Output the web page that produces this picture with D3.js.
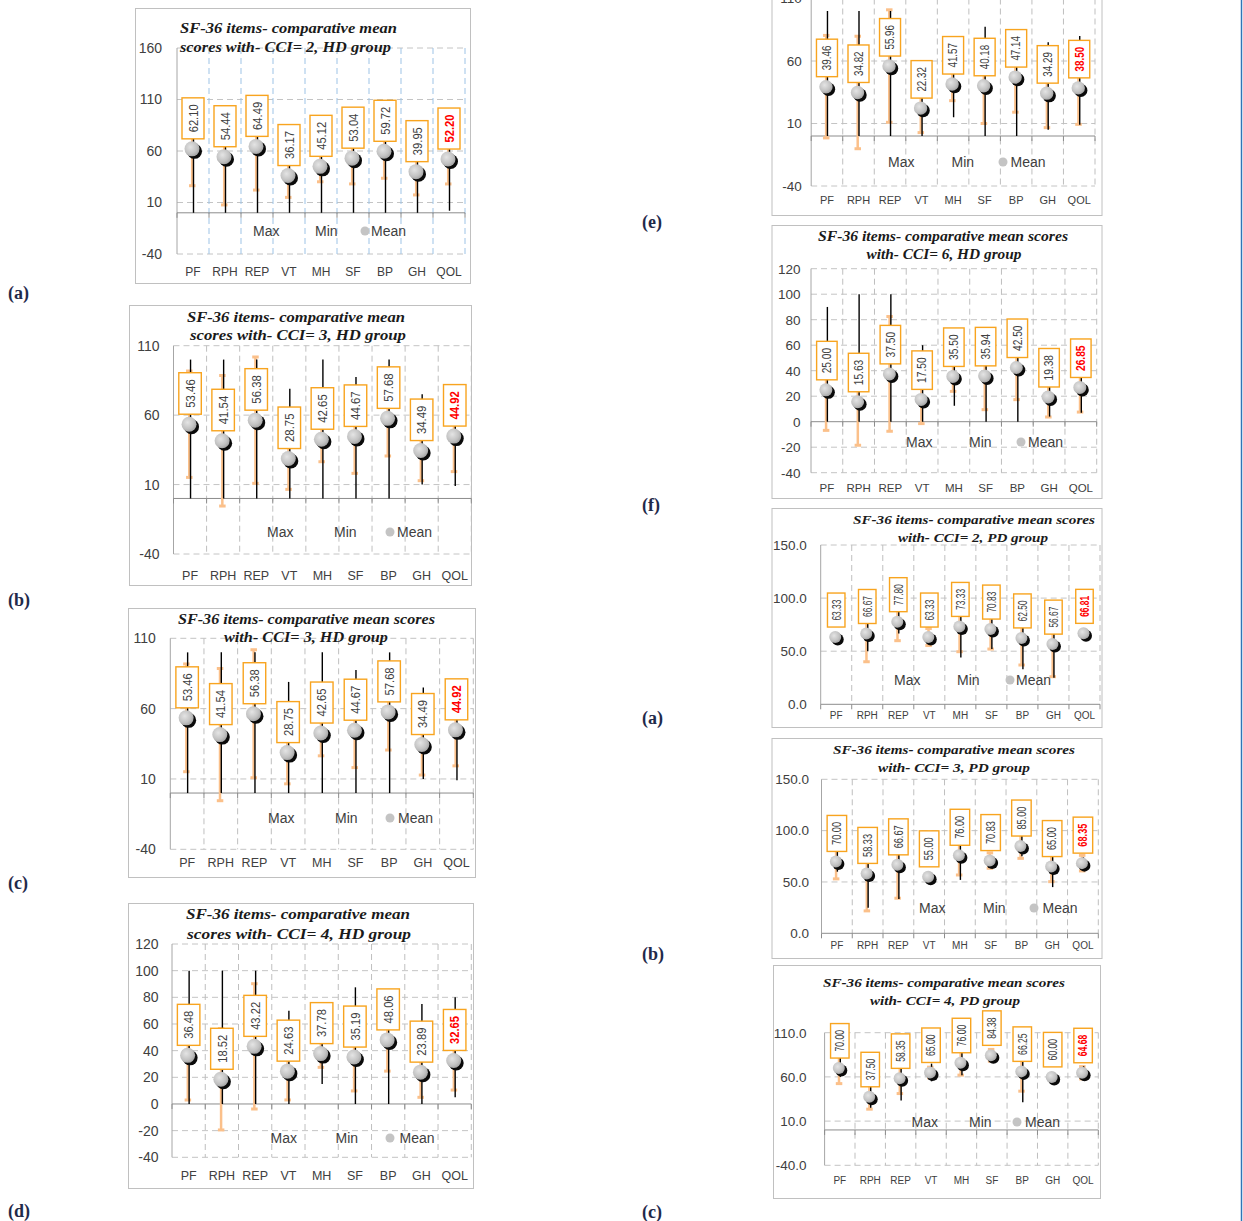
<!DOCTYPE html>
<html>
<head>
<meta charset="utf-8">
<script src="https://cdn.jsdelivr.net/npm/d3@7"></script>
<style>
  body { margin: 0; background: #fff; }
  svg { display: block; }
</style>
</head>
<body>
<script>
// SF-36 item scores, one small panel per CCI level and dialysis group.
const categories = ["PF", "RPH", "REP", "VT", "MH", "SF", "BP", "GH", "QOL"];

const hdCci2Mean = [62.10, 54.44, 64.49, 36.17, 45.12, 53.04, 59.72, 39.95, 52.20];
const hdCci2Sd   = [35.8, 46.8, 42.4, 21.2, 15.0, 25.0, 26.2, 22.6, 24.2];
const hdCci2Min  = [0, 0, 0, 0, 0, 0, 0, 0, 2];
const hdCci2Max  = [100, 100, 100, 66, 80, 90, 100, 72, 85];

const hdCci3Mean = [53.46, 41.54, 56.38, 28.75, 42.65, 44.67, 57.68, 34.49, 44.92];
const hdCci3Sd   = [38.3, 47.0, 45.5, 22.2, 16.2, 26.6, 27.1, 21.7, 25.6];
const hdCci3Min  = [0, 0, 0, 0, 0, 0, 0, 10, 9];
const hdCci3Max  = [100, 100, 100, 79, 100, 87.5, 100, 75, 75];

const hdCci4Mean = [36.48, 18.52, 43.22, 24.63, 37.78, 35.19, 48.06, 23.89, 32.65];
const hdCci4Sd   = [33.5, 38.0, 47.0, 21.6, 10.3, 25.4, 23.4, 18.9, 22.2];
const hdCci4Min  = [0, 0, 0, 0, 15, 0, 0, 0, 5];
const hdCci4Max  = [100, 100, 100, 70, 70, 87.5, 85, 75, 80];

const hdCci5Mean = [39.46, 34.82, 55.96, 22.32, 41.57, 40.18, 47.14, 34.29, 38.50];
const hdCci5Sd   = [41.0, 45.0, 45.0, 19.6, 13.3, 30.2, 28.1, 27.6, 29.2];
const hdCci5Min  = [0, 0, 0, 0, 15, 0, 0, 5, 9];
const hdCci5Max  = [100, 100, 100, 50, 70, 87.5, 80, 75, 80];

const hdCci6Mean = [25.00, 15.63, 37.50, 17.50, 35.50, 35.94, 42.50, 19.38, 26.85];
const hdCci6Sd   = [31.8, 34.1, 45.0, 19.0, 11.7, 26.5, 25.2, 15.7, 19.3];
const hdCci6Min  = [0, 0, 0, 0, 12.5, 0, 0, 4, 7];
const hdCci6Max  = [90, 100, 100, 60, 60, 62.5, 75, 40, 45];

const pdCci2Mean = [63.33, 66.67, 77.80, 63.33, 73.33, 70.83, 62.50, 56.67, 66.81];
const pdCci2Sd   = [0, 26.6, 17.9, 8.0, 23.8, 18.8, 25.5, 30.7, 2.0];
const pdCci2Min  = [63.33, 50, 66.7, 60, 44, 52, 33, 25, 65];
const pdCci2Max  = [63.33, 83.3, 88.9, 66.7, 88, 85, 80, 70, 68];

const pdCci3Mean = [70.00, 58.33, 66.67, 55.00, 76.00, 70.83, 85.00, 65.00, 68.35];
const pdCci3Sd   = [17.0, 36.5, 32.5, 0, 19.2, 7.5, 12.0, 14.7, 7.6];
const pdCci3Min  = [60, 25, 33.3, 55, 52, 66.7, 75, 45, 62];
const pdCci3Max  = [85, 83.3, 91.7, 55, 92, 75, 95, 80, 74];

const pdCci4Mean = [70.00, 37.50, 58.35, 65.00, 76.00, 84.38, 66.25, 60.00, 64.68];
const pdCci4Sd   = [17.6, 14.0, 17.2, 6.0, 14.0, 6.7, 22.4, 0, 7.0];
const pdCci4Min  = [60, 25, 33.3, 55, 62, 77, 31.3, 60, 57];
const pdCci4Max  = [85, 55, 75, 75, 87, 90, 87, 60, 72];

const ticksA = [-40, 10, 60, 110, 160];
const ticksB = [-40, 10, 60, 110];
const ticksC = [-40, -20, 0, 20, 40, 60, 80, 100, 120];
const ticksPd = [0, 50, 100, 150];

const intFmt = d => String(d);
const oneFmt = d => d.toFixed(1);

const panels = [
  { tag: "(a)", tagPos: [8, 299], mean: hdCci2Mean, sd: hdCci2Sd, lo: hdCci2Min, hi: hdCci2Max,
    ticks: ticksA, fmt: intFmt, frame: [135, 8, 335, 275], plot: [177, 48, 465, 254],
    vColor: "#9dc3e6", yPad: 15, xPad: 13, yFont: 14, xFont: 12, r: 7.5, box: [22, 41],
    title: ["SF-36 items- comparative mean", "scores with- CCI= 2, HD group"],
    titleLines: [[288.5, 33, 217], [285.5, 52, 211]], titleFont: 15,
    legend: { y: 231, max: 253, min: 315, dot: 365, mean: 371 } },
  { tag: "(b)", tagPos: [8, 606], mean: hdCci3Mean, sd: hdCci3Sd, lo: hdCci3Min, hi: hdCci3Max,
    ticks: ticksB, fmt: intFmt, frame: [129, 305, 342, 280], plot: [173.5, 345.7, 471.3, 554],
    vColor: "#bfbfbf", yPad: 14, xPad: 17, yFont: 14, xFont: 12.5, r: 7.5, box: [22.5, 41.5],
    title: ["SF-36 items- comparative mean", "scores with- CCI= 3, HD group"],
    titleLines: [[296, 322, 218], [298, 339.5, 216]], titleFont: 15,
    legend: { y: 532, max: 267, min: 334, dot: 390, mean: 397 } },
  { tag: "(c)", tagPos: [8, 889], mean: hdCci3Mean, sd: hdCci3Sd, lo: hdCci3Min, hi: hdCci3Max,
    ticks: ticksB, fmt: intFmt, frame: [128, 608, 347, 269], plot: [170.3, 638.3, 473.3, 849.3],
    vColor: "#bfbfbf", yPad: 14.5, xPad: 9, yFont: 14, xFont: 12.5, r: 7.5, box: [22.5, 41],
    title: ["SF-36 items- comparative mean scores", "with- CCI= 3, HD group"],
    titleLines: [[306.5, 623.5, 257], [306, 642, 164]], titleFont: 15,
    legend: { y: 818, max: 268, min: 335, dot: 390, mean: 398 } },
  { tag: "(d)", tagPos: [8, 1217], mean: hdCci4Mean, sd: hdCci4Sd, lo: hdCci4Min, hi: hdCci4Max,
    ticks: ticksC, fmt: intFmt, frame: [128, 903, 345, 285], plot: [172, 944, 471.3, 1157.3],
    vColor: "#bfbfbf", yPad: 13.5, xPad: 14, yFont: 14, xFont: 12.5, r: 7.5, box: [22.5, 41],
    title: ["SF-36 items- comparative mean", "scores with- CCI= 4, HD group"],
    titleLines: [[298, 919, 224], [299, 938.5, 224]], titleFont: 15,
    legend: { y: 1138, max: 270.5, min: 335.5, dot: 390, mean: 399.5 } },
  { tag: "(e)", tagPos: [642, 228], mean: hdCci5Mean, sd: hdCci5Sd, lo: hdCci5Min, hi: hdCci5Max,
    ticks: ticksB, fmt: intFmt, frame: [771.5, -10, 330, 225], plot: [811.2, -1.5, 1095, 186],
    vColor: "#bfbfbf", yPad: 9.5, xPad: 10.5, yFont: 13.5, xFont: 11, r: 6.7, box: [21, 37.5],
    title: null, legend: { y: 162, max: 888, min: 951.5, dot: 1003, mean: 1010.5 } },
  { tag: "(f)", tagPos: [642, 511], mean: hdCci6Mean, sd: hdCci6Sd, lo: hdCci6Min, hi: hdCci6Max,
    ticks: ticksC, fmt: intFmt, frame: [771.5, 225, 330, 273], plot: [811, 268.7, 1096.7, 472.7],
    vColor: "#bfbfbf", yPad: 10.5, xPad: 11, yFont: 13.5, xFont: 11.5, r: 6.5, box: [20.5, 38.5],
    title: ["SF-36 items- comparative mean scores", "with- CCI= 6, HD group"],
    titleLines: [[943, 240.5, 250], [944, 259, 155]], titleFont: 14,
    legend: { y: 442, max: 906, min: 969, dot: 1021, mean: 1028 } },
  { tag: "(a)", tagPos: [642, 724], mean: pdCci2Mean, sd: pdCci2Sd, lo: pdCci2Min, hi: pdCci2Max,
    ticks: ticksPd, fmt: oneFmt, frame: [771.5, 508, 330, 219], plot: [820.7, 545, 1100, 704.3],
    vColor: "#bfbfbf", yPad: 14, xPad: 8, yFont: 13.5, xFont: 10, r: 6, box: [17.5, 34],
    title: ["SF-36 items- comparative mean scores", "with- CCI= 2, PD group"],
    titleLines: [[974, 523.5, 242], [973, 542, 150]], titleFont: 13.5,
    legend: { y: 680, max: 894, min: 957, dot: 1010, mean: 1016 } },
  { tag: "(b)", tagPos: [642, 960], mean: pdCci3Mean, sd: pdCci3Sd, lo: pdCci3Min, hi: pdCci3Max,
    ticks: ticksPd, fmt: oneFmt, frame: [771.5, 738, 330, 220], plot: [821.5, 779.3, 1098.3, 933.3],
    vColor: "#bfbfbf", yPad: 12.5, xPad: 9, yFont: 13.5, xFont: 10, r: 6, box: [19.5, 36],
    title: ["SF-36 items- comparative mean scores", "with- CCI= 3, PD group"],
    titleLines: [[954, 753.5, 242], [954, 772, 152]], titleFont: 13.5,
    legend: { y: 908, max: 919, min: 983, dot: 1034, mean: 1042.5 } },
  { tag: "(c)", tagPos: [642, 1218], mean: pdCci4Mean, sd: pdCci4Sd, lo: pdCci4Min, hi: pdCci4Max,
    ticks: ticksB, fmt: oneFmt, frame: [773, 965, 327, 233], plot: [824.6, 1032.7, 1098.3, 1165.3],
    vColor: "#bfbfbf", yPad: 18, xPad: 11.5, yFont: 13.5, xFont: 10, r: 6, box: [18.5, 34.5],
    title: ["SF-36 items- comparative mean scores", "with- CCI= 4, PD group"],
    titleLines: [[944, 987, 242], [945, 1005, 150]], titleFont: 13.5,
    legend: { y: 1122, max: 911.5, min: 969, dot: 1017, mean: 1025 } }
];

const svg = d3.select("body").append("svg")
  .attr("width", 1243)
  .attr("height", 1221);

const grad = svg.append("defs").append("radialGradient")
  .attr("id", "sphere")
  .attr("cx", "40%").attr("cy", "38%").attr("r", "62%");
grad.append("stop").attr("offset", "0%").attr("stop-color", "#e4e4e4");
grad.append("stop").attr("offset", "70%").attr("stop-color", "#c2c2c2");
grad.append("stop").attr("offset", "100%").attr("stop-color", "#a8a8a8");

const sans = "'Liberation Sans', Arial, sans-serif";
const narrow = "'Liberation Sans Narrow', 'Liberation Sans', Arial, sans-serif";
const serif = "'Liberation Serif', 'Times New Roman', serif";
const orange = "#f8a41f";
const paleOrange = "#fbc08a";

function drawPanel(p) {
  const g = svg.append("g");
  const [left, top, right, bottom] = p.plot;

  g.append("rect")
    .attr("x", p.frame[0] + 0.5).attr("y", p.frame[1] + 0.5)
    .attr("width", p.frame[2]).attr("height", p.frame[3])
    .attr("fill", "#fff").attr("stroke", "#c0c0c0");

  const y = d3.scaleLinear()
    .domain([p.ticks[0], p.ticks[p.ticks.length - 1]])
    .range([bottom, top]);
  const x = d3.scaleBand().domain(categories).range([left, right]);
  const center = cat => x(cat) + x.bandwidth() / 2;

  // dashed grid, horizontal at each tick and vertical between categories
  g.selectAll(".hgrid")
    .data(p.ticks.filter(t => t !== 0))
    .join("line")
    .attr("x1", left).attr("x2", right)
    .attr("y1", d => y(d)).attr("y2", d => y(d))
    .attr("stroke", "#c4c4c4").attr("stroke-dasharray", "6,4");
  g.selectAll(".vgrid")
    .data(categories)
    .join("line")
    .attr("x1", d => x(d) + x.step()).attr("x2", d => x(d) + x.step())
    .attr("y1", top).attr("y2", bottom)
    .attr("stroke", p.vColor).attr("stroke-dasharray", "6,4");

  // value axis and the zero line
  g.append("line")
    .attr("x1", left).attr("x2", left).attr("y1", top).attr("y2", bottom)
    .attr("stroke", "#a6a6a6");
  g.append("line")
    .attr("x1", left).attr("x2", right).attr("y1", y(0)).attr("y2", y(0))
    .attr("stroke", "#8c8c8c");
  g.selectAll(".ztick")
    .data([null, ...categories])
    .join("line")
    .attr("x1", d => d === null ? left : x(d) + x.step())
    .attr("x2", d => d === null ? left : x(d) + x.step())
    .attr("y1", y(0)).attr("y2", y(0) + 5)
    .attr("stroke", "#8c8c8c");

  const yAxis = g.append("g")
    .attr("transform", `translate(${left},0)`)
    .call(d3.axisLeft(y).tickValues(p.ticks).tickSize(0).tickPadding(p.yPad).tickFormat(p.fmt));
  yAxis.select(".domain").remove();
  yAxis.selectAll("text")
    .attr("font-family", sans).attr("font-size", p.yFont).attr("fill", "#404040");

  const xAxis = g.append("g")
    .attr("transform", `translate(0,${bottom})`)
    .call(d3.axisBottom(x).tickSize(0).tickPadding(p.xPad));
  xAxis.select(".domain").remove();
  xAxis.selectAll("text")
    .attr("font-family", sans).attr("font-size", p.xFont).attr("fill", "#404040");

  const rows = categories.map((cat, i) => ({
    cat, mean: p.mean[i], sd: p.sd[i], lo: p.lo[i], hi: p.hi[i], last: i === categories.length - 1
  }));

  // standard deviation bars
  const withSd = rows.filter(r => r.sd > 0);
  g.selectAll(".sd")
    .data(withSd)
    .join("line")
    .attr("x1", d => center(d.cat) - 0.8).attr("x2", d => center(d.cat) - 0.8)
    .attr("y1", d => y(d.mean - d.sd)).attr("y2", d => y(d.mean + d.sd))
    .attr("stroke", paleOrange).attr("stroke-width", 2.5);
  g.selectAll(".cap")
    .data(withSd.flatMap(d => [{ cat: d.cat, v: d.mean - d.sd }, { cat: d.cat, v: d.mean + d.sd }]))
    .join("line")
    .attr("x1", d => center(d.cat) - 4).attr("x2", d => center(d.cat) + 2.5)
    .attr("y1", d => y(d.v)).attr("y2", d => y(d.v))
    .attr("stroke", paleOrange).attr("stroke-width", 3);

  // min to max lines
  g.selectAll(".range")
    .data(rows.filter(r => r.hi > r.lo))
    .join("line")
    .attr("x1", d => center(d.cat) + 0.5).attr("x2", d => center(d.cat) + 0.5)
    .attr("y1", d => y(d.lo)).attr("y2", d => y(d.hi))
    .attr("stroke", "#000").attr("stroke-width", 1.4);

  // mean markers with a dark shadow
  g.selectAll(".shadow")
    .data(rows)
    .join("circle")
    .attr("cx", d => center(d.cat) + 1.5).attr("cy", d => y(d.mean) + 2.5)
    .attr("r", p.r).attr("fill", "#0a0a0a");
  g.selectAll(".mean")
    .data(rows)
    .join("circle")
    .attr("cx", d => center(d.cat) - 1).attr("cy", d => y(d.mean))
    .attr("r", p.r).attr("fill", "url(#sphere)");

  // mean value labels in orange boxes
  const [bw, bh] = p.box;
  const labels = g.selectAll(".label")
    .data(rows)
    .join("g")
    .attr("transform", d => `translate(${center(d.cat)},${y(d.mean) - 10 - bh / 2})`);
  labels.append("rect")
    .attr("x", -bw / 2).attr("y", -bh / 2)
    .attr("width", bw).attr("height", bh)
    .attr("fill", "#fff").attr("stroke", orange).attr("stroke-width", 1.4);
  labels.append("text")
    .attr("transform", "rotate(-90)")
    .attr("text-anchor", "middle")
    .attr("dy", "0.36em")
    .attr("font-family", narrow)
    .attr("font-size", bh > 40 ? 13 : 12)
    .attr("font-weight", d => d.last ? "bold" : "normal")
    .attr("fill", d => d.last ? "#ff0000" : "#404040")
    .attr("textLength", bh - 13)
    .attr("lengthAdjust", "spacingAndGlyphs")
    .text(d => d.mean.toFixed(2));

  // legend inside the plot
  const lg = g.append("g")
    .attr("font-family", sans).attr("font-size", 14).attr("fill", "#404040");
  lg.append("text").attr("x", p.legend.max).attr("y", p.legend.y).attr("dy", "0.35em").text("Max");
  lg.append("text").attr("x", p.legend.min).attr("y", p.legend.y).attr("dy", "0.35em").text("Min");
  lg.append("circle").attr("cx", p.legend.dot).attr("cy", p.legend.y).attr("r", 4.5).attr("fill", "#c4c4c4");
  lg.append("text").attr("x", p.legend.mean).attr("y", p.legend.y).attr("dy", "0.35em").text("Mean");

  if (p.title) {
    g.selectAll(".title")
      .data(p.title)
      .join("text")
      .attr("x", (d, i) => p.titleLines[i][0])
      .attr("y", (d, i) => p.titleLines[i][1])
      .attr("text-anchor", "middle")
      .attr("font-family", serif)
      .attr("font-style", "italic")
      .attr("font-weight", "bold")
      .attr("font-size", p.titleFont)
      .attr("fill", "#1a1a1a")
      .attr("textLength", (d, i) => p.titleLines[i][2])
      .attr("lengthAdjust", "spacingAndGlyphs")
      .text(d => d);
  }

  svg.append("text")
    .attr("x", p.tagPos[0]).attr("y", p.tagPos[1])
    .attr("font-family", serif).attr("font-weight", "bold").attr("font-size", 18)
    .attr("fill", "#1f2a4a")
    .text(p.tag);
}

panels.forEach(drawPanel);

svg.append("line")
  .attr("x1", 1241.5).attr("x2", 1241.5).attr("y1", 0).attr("y2", 1221)
  .attr("stroke", "#2e75b6").attr("stroke-width", 1.5);
</script>
</body>
</html>
